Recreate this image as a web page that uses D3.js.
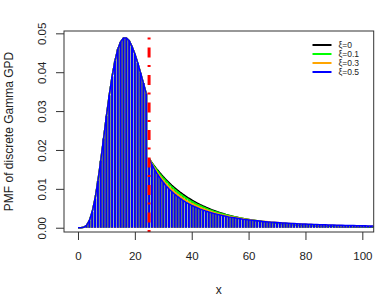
<!DOCTYPE html>
<html>
<head>
<meta charset="utf-8">
<script src="https://cdn.jsdelivr.net/npm/d3@7"></script>
<style>
  body { margin: 0; background: #fff; }
  text { font-family: "Liberation Sans", Arial, sans-serif; }
</style>
</head>
<body>
<script>
// threshold between gamma body and GPD tail
var threshold = 25;

// body pmf, x = 0..24 (same for every xi)
var body = [0.0000, 0.0000, 0.0001, 0.0006, 0.0018, 0.0041, 0.0075, 0.0120, 0.0172, 0.0229,
            0.0287, 0.0341, 0.0389, 0.0429, 0.0459, 0.0478, 0.0488, 0.0488, 0.0481, 0.0466,
            0.0447, 0.0424, 0.0398, 0.0372, 0.0345];

// tail pmf, x = 25..104
var tail0 = [0.01780, 0.01675, 0.01576, 0.01482, 0.01395, 0.01312, 0.01235, 0.01162, 0.01093, 0.01028,
             0.00967, 0.00910, 0.00856, 0.00806, 0.00758, 0.00713, 0.00671, 0.00631, 0.00594, 0.00559,
             0.00526, 0.00495, 0.00465, 0.00438, 0.00412, 0.00388, 0.00365, 0.00343, 0.00323, 0.00304,
             0.00286, 0.00269, 0.00253, 0.00238, 0.00224, 0.00211, 0.00198, 0.00186, 0.00175, 0.00165,
             0.00155, 0.00146, 0.00137, 0.00129, 0.00122, 0.00115, 0.00108, 0.00101, 0.00095, 0.00090,
             0.00084, 0.00079, 0.00075, 0.00070, 0.00066, 0.00062, 0.00059, 0.00055, 0.00052, 0.00049,
             0.00046, 0.00043, 0.00041, 0.00038, 0.00036, 0.00034, 0.00032, 0.00030, 0.00028, 0.00027,
             0.00025, 0.00024, 0.00022, 0.00021, 0.00020, 0.00019, 0.00017, 0.00016, 0.00015, 0.00015];
var tail01 = [0.01780, 0.01665, 0.01558, 0.01458, 0.01366, 0.01279, 0.01199, 0.01124, 0.01054, 0.00989,
              0.00928, 0.00872, 0.00819, 0.00769, 0.00723, 0.00680, 0.00639, 0.00601, 0.00566, 0.00533,
              0.00502, 0.00473, 0.00446, 0.00420, 0.00396, 0.00374, 0.00353, 0.00333, 0.00314, 0.00297,
              0.00280, 0.00265, 0.00251, 0.00237, 0.00224, 0.00212, 0.00201, 0.00190, 0.00180, 0.00170,
              0.00161, 0.00153, 0.00145, 0.00137, 0.00130, 0.00124, 0.00117, 0.00111, 0.00106, 0.00100,
              0.00095, 0.00091, 0.00086, 0.00082, 0.00078, 0.00074, 0.00070, 0.00067, 0.00064, 0.00061,
              0.00058, 0.00055, 0.00052, 0.00050, 0.00048, 0.00045, 0.00043, 0.00041, 0.00039, 0.00037,
              0.00036, 0.00034, 0.00032, 0.00031, 0.00030, 0.00028, 0.00027, 0.00026, 0.00025, 0.00023];
var tail03 = [0.01780, 0.01646, 0.01523, 0.01412, 0.01311, 0.01218, 0.01134, 0.01056, 0.00985, 0.00920,
              0.00860, 0.00804, 0.00753, 0.00706, 0.00663, 0.00622, 0.00585, 0.00551, 0.00519, 0.00489,
              0.00461, 0.00435, 0.00411, 0.00389, 0.00368, 0.00348, 0.00330, 0.00313, 0.00297, 0.00281,
              0.00267, 0.00254, 0.00242, 0.00230, 0.00219, 0.00209, 0.00199, 0.00190, 0.00181, 0.00173,
              0.00165, 0.00158, 0.00151, 0.00144, 0.00138, 0.00132, 0.00126, 0.00121, 0.00116, 0.00111,
              0.00107, 0.00102, 0.00098, 0.00094, 0.00091, 0.00087, 0.00084, 0.00080, 0.00077, 0.00074,
              0.00072, 0.00069, 0.00066, 0.00064, 0.00062, 0.00059, 0.00057, 0.00055, 0.00053, 0.00051,
              0.00050, 0.00048, 0.00046, 0.00045, 0.00043, 0.00042, 0.00040, 0.00039, 0.00038, 0.00036];
var tail05 = [0.01780, 0.01627, 0.01490, 0.01369, 0.01260, 0.01163, 0.01075, 0.00996, 0.00925, 0.00860,
              0.00801, 0.00747, 0.00699, 0.00654, 0.00613, 0.00575, 0.00540, 0.00509, 0.00479, 0.00452,
              0.00427, 0.00403, 0.00382, 0.00362, 0.00343, 0.00325, 0.00309, 0.00294, 0.00279, 0.00266,
              0.00254, 0.00242, 0.00231, 0.00220, 0.00211, 0.00202, 0.00193, 0.00185, 0.00177, 0.00170,
              0.00163, 0.00156, 0.00150, 0.00144, 0.00139, 0.00133, 0.00128, 0.00124, 0.00119, 0.00115,
              0.00111, 0.00107, 0.00103, 0.00099, 0.00096, 0.00093, 0.00090, 0.00087, 0.00084, 0.00081,
              0.00079, 0.00076, 0.00074, 0.00071, 0.00069, 0.00067, 0.00065, 0.00063, 0.00061, 0.00060,
              0.00058, 0.00056, 0.00055, 0.00053, 0.00052, 0.00050, 0.00049, 0.00047, 0.00046, 0.00045];

var seriesNames = ["\u03be=0", "\u03be=0.1", "\u03be=0.3", "\u03be=0.5"];
var seriesColors = ["black", "#00ff00", "orange", "blue"];
var xTicks = [0, 20, 40, 60, 80, 100];
var yTicks = [0, 0.01, 0.02, 0.03, 0.04, 0.05];

var series = [tail0, tail01, tail03, tail05].map(function (t) {
    return body.concat(t).map(function (v, i) { return [i, v]; });
});

var w = 382, h = 297;
var mLeft = 64, mRight = 373.7, mTop = 31, mBottom = 232;

var x = d3.scaleLinear().domain([-4.92, 104]).range([mLeft, mRight]);
var y = d3.scaleLinear().domain([-0.0011, 0.0506]).range([mBottom, mTop]);

var svg = d3.select("body").append("svg")
    .attr("width", w)
    .attr("height", h);

svg.append("clipPath").attr("id", "plotclip")
    .append("rect")
    .attr("x", mLeft).attr("y", mTop)
    .attr("width", mRight - mLeft).attr("height", mBottom - mTop);

var plot = svg.append("g").attr("clip-path", "url(#plotclip)");

var line = d3.line()
    .x(function (d) { return x(d[0]); })
    .y(function (d) { return y(d[1]); });

series.forEach(function (s, k) {
    // type "h" bars
    plot.selectAll(null)
        .data(s).enter()
        .append("line")
        .attr("x1", function (d) { return x(d[0]); })
        .attr("x2", function (d) { return x(d[0]); })
        .attr("y1", y(0))
        .attr("y2", function (d) { return y(d[1]); })
        .attr("stroke", seriesColors[k])
        .attr("stroke-width", 2);
    // connecting line, split at the threshold
    plot.append("path")
        .datum(s.slice(0, threshold))
        .attr("d", line)
        .attr("fill", "none")
        .attr("stroke", seriesColors[k])
        .attr("stroke-width", 1.5);
    plot.append("path")
        .datum(s.slice(threshold))
        .attr("d", line)
        .attr("fill", "none")
        .attr("stroke", seriesColors[k])
        .attr("stroke-width", 1.5);
});

// threshold line
plot.append("line")
    .attr("x1", x(threshold)).attr("x2", x(threshold))
    .attr("y1", mBottom).attr("y2", mTop)
    .attr("stroke", "red")
    .attr("stroke-width", 3)
    .attr("stroke-dasharray", "2,7.5,10,8");

// box
svg.append("rect")
    .attr("x", mLeft).attr("y", mTop)
    .attr("width", mRight - mLeft).attr("height", mBottom - mTop)
    .attr("fill", "none")
    .attr("stroke", "#333")
    .attr("stroke-width", 1);

// x axis
var xAxis = svg.append("g")
    .attr("transform", "translate(0," + mBottom + ")")
    .call(d3.axisBottom(x).tickValues(xTicks).tickSize(8).tickPadding(12).tickSizeOuter(0));
xAxis.select(".domain").remove();
xAxis.selectAll(".tick line").attr("stroke", "#333");
xAxis.selectAll("text").attr("font-size", "11.5px").attr("fill", "#222")
    .style("font-family", "'Liberation Sans', Arial, sans-serif");

// y axis, rotated labels like R
var yAxis = svg.append("g")
    .attr("transform", "translate(" + mLeft + ",0)")
    .call(d3.axisLeft(y).tickValues(yTicks).tickSize(8).tickFormat(d3.format(".2f")));
yAxis.select(".domain").remove();
yAxis.selectAll(".tick line").attr("stroke", "#333");
yAxis.selectAll("text")
    .attr("font-size", "11.5px").attr("fill", "#222")
    .style("font-family", "'Liberation Sans', Arial, sans-serif")
    .attr("x", null).attr("dy", null)
    .attr("text-anchor", "middle")
    .attr("transform", "translate(-18.5,0) rotate(-90)");

// axis titles
svg.append("text")
    .attr("x", (mLeft + mRight) / 2).attr("y", 294)
    .attr("text-anchor", "middle")
    .attr("font-size", "12px").attr("fill", "#222")
    .text("x");

svg.append("text")
    .attr("transform", "translate(13," + (mTop + mBottom) / 2 + ") rotate(-90)")
    .attr("text-anchor", "middle")
    .attr("font-size", "12px").attr("fill", "#222")
    .text("PMF of discrete Gamma GPD");

// legend
var legend = svg.append("g");
seriesNames.forEach(function (name, k) {
    var ly = 45 + k * 9;
    legend.append("line")
        .attr("x1", 312.5).attr("x2", 331.5)
        .attr("y1", ly).attr("y2", ly)
        .attr("stroke", seriesColors[k])
        .attr("stroke-width", 2);
    legend.append("text")
        .attr("x", 338.5).attr("y", ly + 3)
        .attr("font-size", "8.5px").attr("fill", "#222")
        .text(name);
});
</script>
</body>
</html>
